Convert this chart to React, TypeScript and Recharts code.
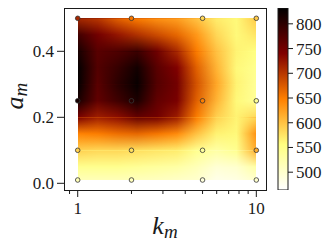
import React from 'react';
import { ComposedChart, Area, Scatter, XAxis, YAxis, ReferenceArea, Bar } from 'recharts';

// ---- data ----
const kCols = [1, 1.292, 1.668, 2.154, 2.783, 3.594, 4.642, 5.995, 7.743, 10];
const aRows = [0.5, 0.45, 0.4, 0.35, 0.3, 0.25, 0.2, 0.15, 0.1, 0.05, 0.01];
const gridValues = [
  [712, 700, 670, 650, 635, 625, 600, 570, 560, 595],
  [785, 750, 725, 705, 685, 665, 630, 585, 560, 575],
  [815, 768, 775, 788, 752, 710, 650, 600, 565, 555],
  [830, 772, 792, 818, 768, 740, 670, 610, 560, 545],
  [830, 768, 800, 826, 772, 750, 680, 620, 565, 540],
  [815, 762, 786, 812, 762, 745, 670, 610, 560, 540],
  [745, 718, 730, 760, 750, 720, 650, 590, 565, 585],
  [645, 650, 660, 665, 655, 640, 600, 565, 560, 635],
  [590, 585, 585, 580, 575, 570, 545, 530, 545, 615],
  [545, 545, 545, 540, 535, 530, 515, 495, 500, 530],
  [515, 515, 515, 512, 510, 505, 500, 480, 485, 500],
];
const sampleK = [1, 2, 5, 10];
const sampleA = [0.5, 0.25, 0.1, 0.01];
const sampleValues = [
  [712, 655, 585, 595],
  [815, 805, 650, 540],
  [590, 580, 535, 615],
  [515, 512, 490, 500],
];
const xTicks = [0.9, 1, 2, 3, 4, 5, 6, 7, 8, 9, 10];
const xLabelTicks = [1, 10];
const yTicks = [0, 0.2, 0.4];
const cbarTicks = [500, 550, 600, 650, 700, 750, 800];
const cbarMin = 464;
const cbarMax = 832;
const xDomain = [0.838, 11.33];
const yDomain = [-0.0203, 0.5312];

// ---- colormap (afmhot reversed) ----
const clamp = (v: number) => Math.max(0, Math.min(1, v));
function afmhotR(v: number): string {
  const x = clamp(1 - (v - cbarMin) / (cbarMax - cbarMin));
  const r = clamp(2 * x), g = clamp(2 * x - 0.5), b = clamp(2 * x - 1);
  return `rgb(${Math.round(r * 255)},${Math.round(g * 255)},${Math.round(b * 255)})`;
}

const FONT = '"Liberation Serif", "DejaVu Serif", serif';
const INK = '#1a1a1a';
const TICK_FS = 17;

const chartData = [{ k: kCols[0] }, { k: kCols[kCols.length - 1] }];
const bands = aRows.slice(0, -1).map((aHi, r) => ({ r, aHi, aLo: aRows[r + 1] }));
const scatterData = sampleA.flatMap((a, i) => sampleK.map((k, j) => ({ k, a, v: sampleValues[i][j] })));
const cbarData = [{ name: 'cb', range: [cbarMin, cbarMax] }];

const XTick = (props: any) => {
  const { x, y, payload } = props;
  const major = xLabelTicks.includes(payload.value);
  return (
    <g>
      <line x1={x} x2={x} y1={y} y2={y + (major ? 7 : 4)} stroke={INK} strokeWidth={1} />
      {major && (
        <text x={x} y={y + 24} textAnchor="middle" fontFamily={FONT} fontSize={TICK_FS} fill={INK}>
          {payload.value}
        </text>
      )}
    </g>
  );
};

const YTick = (props: any) => {
  const { x, y, payload } = props;
  return (
    <g>
      <line x1={x - 7} x2={x} y1={y} y2={y} stroke={INK} strokeWidth={1} />
      <text x={x - 10} y={y + 6} textAnchor="end" fontFamily={FONT} fontSize={TICK_FS} fill={INK}>
        {Number(payload.value).toFixed(1)}
      </text>
    </g>
  );
};

const CTick = (props: any) => {
  const { x, y, payload } = props;
  return (
    <g>
      <line x1={x} x2={x + 5} y1={y} y2={y} stroke={INK} strokeWidth={1} />
      <text x={x + 8} y={y + 6} textAnchor="start" fontFamily={FONT} fontSize={TICK_FS} fill={INK}>
        {payload.value}
      </text>
    </g>
  );
};

const XLabel = (props: any) => {
  const vb = props.viewBox || {};
  return (
    <text x={vb.x + vb.width / 2} y={vb.y + 44} textAnchor="middle" fontFamily={FONT} fontStyle="italic" fill={INK}>
      <tspan fontSize={26}>k</tspan>
      <tspan fontSize={19} dy={4}>m</tspan>
    </text>
  );
};

const YLabel = (props: any) => {
  const vb = props.viewBox || {};
  const cx = vb.x + 15;
  const cy = vb.y + vb.height / 2 - 3;
  return (
    <text x={cx} y={cy} transform={`rotate(-90 ${cx} ${cy})`} textAnchor="middle" fontFamily={FONT} fontStyle="italic" fill={INK}>
      <tspan fontSize={26}>a</tspan>
      <tspan fontSize={19} dy={4}>m</tspan>
    </text>
  );
};

const cssText = `
.hm-top { mask: url(#vramp); }
.hm-cell path { shape-rendering: crispEdges; }
.frame path, .frame rect { shape-rendering: crispEdges; }
`;

export default function App() {
  return (
    <div style={{ position: 'absolute', left: 0, top: 0, width: 332, height: 249, background: '#fff' }}>
      <style>{cssText}</style>
      <div style={{ position: 'absolute', left: 0, top: 0 }}>
        <ComposedChart width={332} height={249} data={chartData} margin={{ top: 8, right: 66, bottom: 19, left: 8 }}>
          <defs>
            <linearGradient id="vramp-g" x1="0" y1="0" x2="0" y2="1">
              <stop offset="0" stopColor="#000" stopOpacity={1} />
              <stop offset="1" stopColor="#000" stopOpacity={0} />
            </linearGradient>
            <mask id="vramp" maskUnits="objectBoundingBox" maskContentUnits="objectBoundingBox" x="0" y="0" width="1" height="1" style={{ maskType: 'alpha' } as any}>
              <rect x="0" y="0" width="1" height="1" fill="url(#vramp-g)" />
            </mask>
            {gridValues.map((row, r) => (
              <linearGradient key={r} id={`hmrow${r}`} x1="0" y1="0" x2="1" y2="0">
                {row.map((v, c) => (
                  <stop key={c} offset={Math.log10(kCols[c]) / Math.log10(kCols[kCols.length - 1])} stopColor={afmhotR(v)} />
                ))}
              </linearGradient>
            ))}
          </defs>
          <XAxis
            dataKey="k"
            type="number"
            scale="log"
            domain={xDomain}
            allowDataOverflow
            ticks={xTicks}
            interval={0}
            height={40}
            axisLine={false}
            tickLine={false}
            tickSize={0}
            tickMargin={0}
            tick={<XTick />}
            label={(p: any) => <XLabel {...p} />}
          />
          <YAxis
            type="number"
            domain={yDomain}
            allowDataOverflow
            ticks={yTicks}
            interval={0}
            width={56}
            axisLine={false}
            tickLine={false}
            tickSize={0}
            tickMargin={0}
            tick={<YTick />}
            label={(p: any) => <YLabel {...p} />}
          />
          {bands.map((b) => (
            <Area
              key={`base${b.r}`}
              className="hm-cell"
              type="linear"
              dataKey={() => [b.aLo, b.aHi]}
              stroke="none"
              fill={`url(#hmrow${b.r + 1})`}
              fillOpacity={1}
              dot={false}
              activeDot={false}
              isAnimationActive={false}
            />
          ))}
          {bands.map((b) => (
            <Area
              key={`top${b.r}`}
              className="hm-cell hm-top"
              type="linear"
              dataKey={() => [b.aLo, b.aHi]}
              stroke="none"
              fill={`url(#hmrow${b.r})`}
              fillOpacity={1}
              dot={false}
              activeDot={false}
              isAnimationActive={false}
            />
          ))}
          <ReferenceArea
            className="frame"
            x1={xDomain[0]}
            x2={xDomain[1]}
            y1={yDomain[0]}
            y2={yDomain[1]}
            fill="none"
            stroke={INK}
            strokeWidth={1}
          />
          <Scatter
            data={scatterData}
            dataKey="a"
            isAnimationActive={false}
            shape={(p: any) => (
              <circle cx={p.cx} cy={p.cy} r={2.3} fill={afmhotR(p.payload.v)} stroke="#333" strokeWidth={0.8} />
            )}
          />
        </ComposedChart>
      </div>
      <div style={{ position: 'absolute', left: 0, top: 0 }}>
        <ComposedChart width={332} height={249} data={cbarData} margin={{ top: 8, right: 10, bottom: 59, left: 278 }} barCategoryGap={0} barGap={0}>
          <defs>
            <linearGradient id="cbar" x1="0" y1="1" x2="0" y2="0">
              {[0, 0.25, 0.5, 0.75, 1].map((f) => (
                <stop key={f} offset={f} stopColor={afmhotR(cbarMin + f * (cbarMax - cbarMin))} />
              ))}
            </linearGradient>
          </defs>
          <XAxis dataKey="name" type="category" hide />
          <YAxis
            orientation="right"
            type="number"
            domain={[cbarMin, cbarMax]}
            allowDataOverflow
            ticks={cbarTicks}
            interval={0}
            width={34}
            axisLine={false}
            tickLine={false}
            tickSize={0}
            tickMargin={0}
            tick={<CTick />}
          />
          <Bar dataKey="range" fill="url(#cbar)" stroke={INK} strokeWidth={1} isAnimationActive={false} />
        </ComposedChart>
      </div>
    </div>
  );
}
